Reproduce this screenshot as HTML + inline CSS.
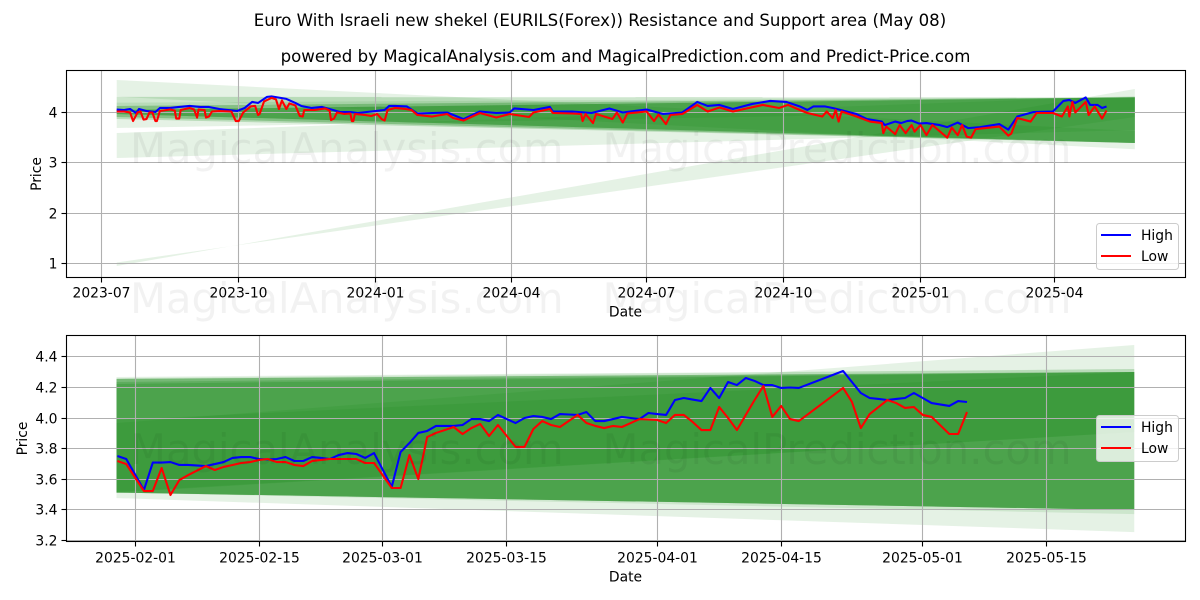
<!DOCTYPE html>
<html lang="en">
<head>
<meta charset="utf-8">
<title>Euro With Israeli new shekel Resistance and Support area</title>
<style>
html,body{margin:0;padding:0;background:#fff;}
svg{display:block;font-family:"DejaVu Sans","Liberation Sans",sans-serif;}
</style>
</head>
<body>
<svg id="chart" xmlns="http://www.w3.org/2000/svg" width="1200" height="600" viewBox="0 0 1200 600">
  <rect x="0" y="0" width="1200" height="600" fill="#fff"/>
  <text x="600" y="26" font-size="16.6" text-anchor="middle" fill="#000">Euro With Israeli new shekel (EURILS(Forex)) Resistance and Support area (May 08)</text>
  <text x="625.5" y="62" font-size="16.6" text-anchor="middle" fill="#000">powered by MagicalAnalysis.com and MagicalPrediction.com and Predict-Price.com</text>
  <g id="top-panel"></g>
  <g id="bottom-panel"></g>
  <g font-size="41.7" fill="#000" fill-opacity="0.05">
    <text x="130" y="163">MagicalAnalysis.com</text>
    <text x="602.5" y="163">MagicalPrediction.com</text>
    <text x="130" y="313">MagicalAnalysis.com</text>
    <text x="602.5" y="313">MagicalPrediction.com</text>
    <text x="130" y="464">MagicalAnalysis.com</text>
    <text x="602.5" y="464">MagicalPrediction.com</text>
  </g>
</svg>
<script>
// ---------- Overview panel data ----------
var topStartDate = '2023-07-11';
var topTickDates = ['2023-07-01','2023-10-01','2024-01-01','2024-04-01','2024-07-01','2024-10-01','2025-01-01','2025-04-01'];
var topTickLabels = ['2023-07','2023-10','2024-01','2024-04','2024-07','2024-10','2025-01','2025-04'];
var topPriceTicks = [1,2,3,4];
var topPriceLabels = ['1','2','3','4'];
var topHighDays = [0,5,9,13,15,20,26,29,36,42,49,56,62,69,81,86,91,95,101,104,108,114,120,124,131,138,143,150,157,162,168,180,183,187,195,202,212,222,233,244,255,264,267,280,291,293,306,319,331,340,356,367,380,390,397,405,414,427,439,450,459,464,468,476,481,497,504,514,516,523,527,531,534,539,544,553,558,565,572,580,593,599,605,616,629,636,640,644,651,654,659,662,665];
var topHighValues = [4.06,4.05,4.07,3.99,4.07,4.03,4.01,4.09,4.09,4.11,4.13,4.11,4.11,4.07,4.03,4.09,4.21,4.19,4.31,4.32,4.30,4.27,4.19,4.13,4.09,4.11,4.07,4.01,4.01,3.99,4.01,4.05,4.13,4.13,4.12,3.98,3.99,4.00,3.87,4.02,3.99,4.00,4.08,4.05,4.11,4.02,4.02,3.99,4.08,4.00,4.06,3.97,4.00,4.21,4.13,4.15,4.07,4.17,4.23,4.21,4.12,4.05,4.12,4.12,4.09,3.97,3.87,3.82,3.75,3.82,3.79,3.83,3.84,3.78,3.79,3.75,3.71,3.80,3.69,3.71,3.77,3.66,3.92,4.01,4.02,4.23,4.25,4.19,4.30,4.15,4.15,4.09,4.12];
var topLowDays = [0,5,9,11,14,16,18,20,22,24,26,27,29,36,39,40,42,43,49,52,54,55,59,60,62,64,69,77,80,82,85,90,93,95,96,99,104,107,109,111,114,116,120,123,125,126,133,140,143,144,146,148,153,157,158,159,160,167,171,175,178,180,182,187,194,198,202,212,222,226,233,244,255,264,277,280,291,293,306,312,313,315,320,322,333,336,340,343,356,361,364,369,372,380,390,397,405,414,434,445,451,459,464,474,477,481,483,485,487,497,506,514,515,517,523,526,530,534,536,540,544,548,558,561,565,568,571,574,577,593,599,601,605,614,618,629,635,639,640,642,644,651,653,657,662,665];
var topLowValues = [4.02,4.02,4.00,3.83,4.00,4.02,3.86,3.87,4.00,4.00,3.83,3.83,4.03,4.06,4.04,3.88,3.88,4.05,4.09,4.06,3.90,4.06,4.05,3.90,3.92,4.02,4.03,4.02,3.83,3.83,4.00,4.12,4.13,3.95,3.97,4.22,4.29,4.26,4.07,4.24,4.07,4.18,4.14,3.93,3.92,4.05,4.05,4.08,4.04,3.85,3.88,4.00,3.97,3.98,3.83,3.83,3.97,3.95,3.93,3.97,3.87,3.84,4.05,4.09,4.07,4.05,3.95,3.92,3.97,3.89,3.84,3.99,3.90,3.97,3.91,4.00,4.07,3.99,3.98,3.97,3.83,3.97,3.79,3.97,3.87,4.00,3.80,3.98,4.02,3.83,3.96,3.77,3.95,3.97,4.15,4.02,4.10,4.02,4.15,4.09,4.15,4.05,3.99,3.92,4.02,3.89,4.05,3.82,4.02,3.92,3.82,3.79,3.59,3.72,3.57,3.75,3.59,3.75,3.62,3.75,3.55,3.75,3.50,3.70,3.55,3.75,3.52,3.50,3.67,3.72,3.54,3.58,3.89,3.82,3.99,3.99,3.92,4.12,3.92,4.21,4.00,4.21,3.95,4.12,3.88,4.04];
var topBandDays = [0,684];
var topBandStartLow  = [4.314,1.020,3.096,3.692,3.871,3.871,3.911,3.911,3.911,3.970,3.970,3.970,3.970,3.970];
var topBandStartHigh = [4.646,0.950,3.593,4.314,4.308,4.195,4.129,4.129,4.129,4.050,4.050,4.050,4.050,4.050];
var topBandEndLow    = [3.269,3.910,3.652,4.050,3.394,3.394,3.394,3.394,3.394,3.394,3.394,3.394,3.394,3.394];
var topBandEndHigh   = [3.632,4.467,4.328,4.302,4.302,4.302,4.302,4.302,4.302,4.302,4.302,4.302,4.302,4.302];

// ---------- Detail panel data ----------
var bottomStartDate = '2025-01-30';
var bottomTickDates = ['2025-02-01','2025-02-15','2025-03-01','2025-03-15','2025-04-01','2025-04-15','2025-05-01','2025-05-15'];
var bottomPriceTicks = [3.2,3.4,3.6,3.8,4.0,4.2,4.4];
var bottomPriceLabels = ['3.2','3.4','3.6','3.8','4.0','4.2','4.4'];
var bottomDays = [0,1,3,4,5,6,7,8,10,11,12,13,14,15,16,17,18,19,20,21,22,23,24,25,26,27,28,29,31,32,33,34,35,36,37,38,39,40,41,42,43,44,45,46,47,48,49,50,51,52,53,54,55,56,57,58,59,60,61,62,63,64,65,66,67,68,69,70,71,72,73,74,75,76,77,82,83,84,85,86,87,88,89,90,91,92,94,95,96];
var bottomHigh = [3.751,3.731,3.528,3.708,3.708,3.711,3.692,3.692,3.685,3.698,3.711,3.738,3.744,3.744,3.731,3.728,3.731,3.744,3.718,3.718,3.744,3.738,3.731,3.757,3.770,3.764,3.738,3.770,3.548,3.777,3.836,3.902,3.915,3.948,3.948,3.948,3.954,3.993,3.993,3.980,4.020,3.993,3.967,4.000,4.013,4.007,3.993,4.026,4.023,4.020,4.039,3.980,3.980,3.993,4.007,4.000,3.993,4.033,4.026,4.020,4.118,4.131,4.121,4.111,4.197,4.131,4.236,4.216,4.262,4.243,4.216,4.216,4.197,4.200,4.197,4.308,4.236,4.164,4.131,4.125,4.118,4.125,4.131,4.164,4.131,4.098,4.079,4.111,4.105];
var bottomLow = [3.718,3.698,3.521,3.521,3.672,3.495,3.593,3.626,3.685,3.659,3.679,3.692,3.705,3.711,3.725,3.731,3.711,3.711,3.692,3.685,3.718,3.725,3.731,3.731,3.731,3.731,3.705,3.705,3.541,3.541,3.757,3.600,3.875,3.902,3.921,3.941,3.895,3.934,3.961,3.882,3.954,3.882,3.810,3.810,3.928,3.980,3.954,3.941,3.980,4.020,3.967,3.948,3.934,3.948,3.941,3.967,3.993,3.990,3.987,3.967,4.020,4.020,3.974,3.921,3.921,4.072,4.000,3.921,4.020,4.118,4.210,4.007,4.079,3.993,3.980,4.197,4.105,3.934,4.026,4.072,4.118,4.098,4.066,4.072,4.020,4.007,3.895,3.895,4.039];
var bottomBandDays = [-0.1,114.9];
var bottomBandStartLow  = [3.515,3.475,3.511,3.511,3.511,3.511,3.511,3.511,3.511,3.511,3.511,3.511,3.511];
var bottomBandStartHigh = [3.967,4.269,4.262,4.256,4.256,4.256,4.256,4.256,4.236,4.236,4.223,4.223,3.987];
var bottomBandEndLow    = [3.908,3.252,3.370,3.397,3.397,3.397,3.397,3.397,3.397,3.397,3.397,3.397,3.908];
var bottomBandEndHigh   = [4.479,4.321,4.321,4.302,4.302,4.302,4.302,4.302,4.302,4.302,4.302,4.302,4.302];

// ---------- Axis functions ----------
var NS = 'http://www.w3.org/2000/svg';
function daysBetween(a, b) { return (Date.parse(b) - Date.parse(a)) / 86400000; }
function topX(day) { return 116.7 + 1.4885 * day; }
function topY(price) { return 112.5 + (4 - price) * 50.33; }
function bottomX(day) { return 117.4 + 8.85 * day; }
function bottomY(price) { return 418 + (4 - price) * 152.5; }
function crisp(v) { return Math.floor(v) + 0.5; }

function make(tag, attrs, parent) {
  var el = document.createElementNS(NS, tag);
  for (var k in attrs) { el.setAttribute(k, attrs[k]); }
  parent.appendChild(el);
  return el;
}

function drawPanel(parent, cfg) {
  var L = 66.5, R = 1185.5, T = cfg.top, B = cfg.bottom, i;

  // resistance / support bands
  for (i = 0; i < cfg.startLow.length; i++) {
    var x0 = cfg.x(cfg.bandDays[0]), x1 = cfg.x(cfg.bandDays[1]);
    var band = make('polygon', {
      points: x0 + ',' + cfg.y(cfg.startHigh[i]) + ' ' + x1 + ',' + cfg.y(cfg.endHigh[i]) + ' ' +
              x1 + ',' + cfg.y(cfg.endLow[i]) + ' ' + x0 + ',' + cfg.y(cfg.startLow[i]),
      fill: '#008000', 'fill-opacity': 0.1
    }, parent);
    
    
  }

  // vertical grid, ticks and date labels
  for (i = 0; i < cfg.tickDates.length; i++) {
    var tx = crisp(cfg.x(daysBetween(cfg.startDate, cfg.tickDates[i])));
    var vg = make('line', {x1: tx, x2: tx, y1: T, y2: B, stroke: '#b0b0b0', 'stroke-width': 1.1}, parent);
    
    
    var vt = make('line', {x1: tx, x2: tx, y1: B, y2: B + 5, stroke: '#000', 'stroke-width': 1.1}, parent);
    
    
    var xl = make('text', {x: tx, y: B + 21 + cfg.labelShift, 'font-size': 13.89, 'text-anchor': 'middle', fill: '#000'}, parent);
    
    
    xl.textContent = cfg.tickLabels[i];
  }

  // horizontal grid, ticks and price labels
  for (i = 0; i < cfg.priceTicks.length; i++) {
    var ty = crisp(cfg.y(cfg.priceTicks[i]));
    var hg = make('line', {x1: L, x2: R, y1: ty, y2: ty, stroke: '#b0b0b0', 'stroke-width': 1.1}, parent);
    
    
    var ht = make('line', {x1: L - 5, x2: L, y1: ty, y2: ty, stroke: '#000', 'stroke-width': 1.1}, parent);
    
    
    var yl = make('text', {x: L - 9, y: ty + 5, 'font-size': 13.89, 'text-anchor': 'end', fill: '#000'}, parent);
    
    
    yl.textContent = cfg.priceLabels[i];
  }

  // series
  function path(days, values) {
    var d = '';
    for (var j = 0; j < days.length; j++) {
      d += (j ? 'L' : 'M') + cfg.x(days[j]).toFixed(2) + ' ' + cfg.y(values[j]).toFixed(2);
    }
    return d;
  }
  var hi = make('path', {d: path(cfg.highDays, cfg.high), fill: 'none', stroke: '#0000ff', 'stroke-width': 2.08, 'stroke-linejoin': 'round'}, parent);
  
  
  var lo = make('path', {d: path(cfg.lowDays, cfg.low), fill: 'none', stroke: '#ff0000', 'stroke-width': 2.08, 'stroke-linejoin': 'round'}, parent);
  
  

  // axes frame
  var frame = make('rect', {x: L, y: T, width: R - L, height: B - T, fill: 'none', stroke: '#000', 'stroke-width': 1.1}, parent);
  
  

  // axis titles
  var xt = make('text', {x: 625.5, y: B + 40 + cfg.labelShift, 'font-size': 13.89, 'text-anchor': 'middle', fill: '#000'}, parent);
  
  
  xt.textContent = 'Date';
  var yt = make('text', {x: 0, y: 0, 'font-size': 13.89, 'text-anchor': 'middle', fill: '#000',
    transform: 'translate(' + cfg.ylabelX + ',' + ((T + B) / 2) + ') rotate(-90)'}, parent);
  
  
  yt.textContent = 'Price';

  // legend
  var lg = make('g', {}, parent);
  
  
  var box = make('rect', {x: 1096.5, y: cfg.legendY, width: 82, height: 46, rx: 3, fill: '#fff', 'fill-opacity': 0.8, stroke: '#cccccc', 'stroke-width': 1}, lg);
  
  
  var s1 = make('line', {x1: 1101, x2: 1131, y1: cfg.legendY + 11.5, y2: cfg.legendY + 11.5, stroke: '#0000ff', 'stroke-width': 2.08}, lg);
  
  
  var t1 = make('text', {x: 1141, y: cfg.legendY + 16.5, 'font-size': 13.89, fill: '#000'}, lg);
  
  
  t1.textContent = 'High';
  var s2 = make('line', {x1: 1101, x2: 1131, y1: cfg.legendY + 32.5, y2: cfg.legendY + 32.5, stroke: '#ff0000', 'stroke-width': 2.08}, lg);
  
  
  var t2 = make('text', {x: 1141, y: cfg.legendY + 37.5, 'font-size': 13.89, fill: '#000'}, lg);
  
  
  t2.textContent = 'Low';
}

drawPanel(document.getElementById('top-panel'), {
  top: 70.5, bottom: 277.5, x: topX, y: topY, startDate: topStartDate,
  tickDates: topTickDates, tickLabels: topTickLabels,
  priceTicks: topPriceTicks, priceLabels: topPriceLabels,
  bandDays: topBandDays, startLow: topBandStartLow, startHigh: topBandStartHigh,
  endLow: topBandEndLow, endHigh: topBandEndHigh,
  highDays: topHighDays, high: topHighValues, lowDays: topLowDays, low: topLowValues,
  ylabelX: 41, legendY: 223.5, labelShift: -1
});
drawPanel(document.getElementById('bottom-panel'), {
  top: 335.5, bottom: 541.5, x: bottomX, y: bottomY, startDate: bottomStartDate,
  tickDates: bottomTickDates, tickLabels: bottomTickDates,
  priceTicks: bottomPriceTicks, priceLabels: bottomPriceLabels,
  bandDays: bottomBandDays, startLow: bottomBandStartLow, startHigh: bottomBandStartHigh,
  endLow: bottomBandEndLow, endHigh: bottomBandEndHigh,
  highDays: bottomDays, high: bottomHigh, lowDays: bottomDays, low: bottomLow,
  ylabelX: 27, legendY: 415.5, labelShift: 0
});
</script>
</body>
</html>
